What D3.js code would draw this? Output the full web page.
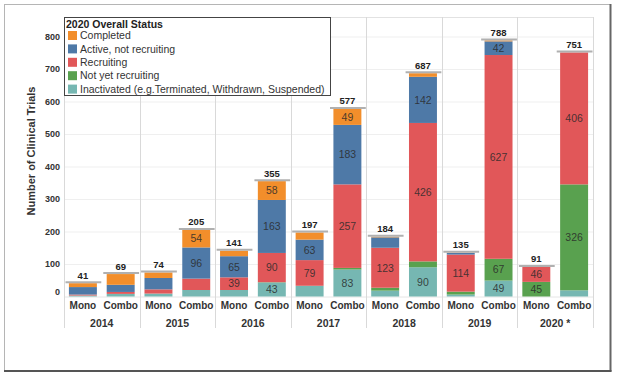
<!DOCTYPE html>
<html><head><meta charset="utf-8">
<script src="https://cdn.jsdelivr.net/npm/d3@7"></script>
<style>
html,body{margin:0;padding:0;background:#fff;}
svg{display:block;font-family:"Liberation Sans",Arial,sans-serif;}
</style></head>
<body><svg id="c" width="618" height="378"></svg>
<script>
const years = ["2014","2015","2016","2017","2018","2019","2020"];
const yearLabels = ["2014","2015","2016","2017","2018","2019","2020 *"];
const types = ["Mono","Combo"];
const statuses = ["Inactivated (e.g.Terminated, Withdrawn, Suspended)","Not yet recruiting","Recruiting","Active, not recruiting","Completed"];
const legendOrder = ["Completed","Active, not recruiting","Recruiting","Not yet recruiting","Inactivated (e.g.Terminated, Withdrawn, Suspended)"];
const colors = ["#76B7B2","#59A14F","#E15759","#4E79A7","#F28E2B"];
// bars in order: 2014 Mono, 2014 Combo, 2015 Mono, ...
const inactivated = [3, 8, 9, 20, 20, 43, 33, 83, 18, 90, 6, 49, 0, 19];
const notYetRecruiting = [0, 0, 0, 0, 0, 1, 0, 5, 9, 18, 9, 67, 45, 326];
const recruiting = [3, 6, 13, 35, 39, 90, 79, 257, 123, 426, 114, 627, 46, 406];
const activeNotRecruiting = [23, 22, 35, 96, 65, 163, 63, 183, 32, 142, 5, 42, 0, 0];
const completed = [12, 33, 17, 54, 17, 58, 22, 49, 2, 11, 1, 3, 0, 0];
const yTicks = [0,100,200,300,400,500,600,700,800];

const series = [inactivated, notYetRecruiting, recruiting, activeNotRecruiting, completed];
const rows = [];
years.forEach((yr,i)=>types.forEach((t,j)=>{
  const k = i*2+j; const r = {year:yr, type:t};
  statuses.forEach((s,si)=>r[s]=series[si][k]);
  r.total = d3.sum(series, a=>a[k]);
  rows.push(r);
}));

const svg = d3.select("#c");
const L=64, R=593, T=17, B=296.5;
const x0 = d3.scaleBand().domain(years).range([L,R]);
const x1 = d3.scaleBand().domain(types).range([0,x0.bandwidth()]);
const y = d3.scaleLinear().domain([0,860]).range([B,T]);
const color = d3.scaleOrdinal().domain(statuses).range(colors);

// outer frame
svg.append("rect").attr("x",4.5).attr("y",4.5).attr("width",606).attr("height",366).attr("fill","none").attr("stroke","#b5b5b5");
svg.append("line").attr("x1",610.5).attr("x2",610.5).attr("y1",4).attr("y2",371.5).attr("stroke","#666").attr("stroke-width",2);
svg.append("line").attr("x1",4).attr("x2",611.5).attr("y1",371).attr("y2",371).attr("stroke","#555").attr("stroke-width",2);

// gridlines
svg.append("g").selectAll("line").data(yTicks.filter(d=>d>0)).join("line")
  .attr("x1",L).attr("x2",R).attr("y1",d=>y(d)+0.5).attr("y2",d=>y(d)+0.5)
  .attr("stroke","#efefef");
svg.append("line").attr("x1",L).attr("x2",R).attr("y1",T+0.5).attr("y2",T+0.5).attr("stroke","#e2e2e2");
svg.append("line").attr("x1",L).attr("x2",R).attr("y1",B+0.5).attr("y2",B+0.5).attr("stroke","#e6e6e6");
// vertical separators
const seps = years.map(d=>x0(d)).concat([R]);
svg.append("g").selectAll("line").data(seps).join("line")
  .attr("x1",d=>Math.round(d)+0.5).attr("x2",d=>Math.round(d)+0.5).attr("y1",T).attr("y2",328)
  .attr("stroke","#d9d9d9");

// y axis labels
svg.append("g").selectAll("text").data(yTicks).join("text")
  .attr("x",60).attr("y",d=>y(d)-(d===0?5:0)).attr("dy","0.35em")
  .attr("text-anchor","end").attr("font-size",9).attr("font-weight","bold").attr("fill","#333")
  .text(d=>d);
svg.append("text").attr("transform","translate(35,151) rotate(-90)")
  .attr("text-anchor","middle").attr("font-size",11).attr("font-weight","bold").attr("fill","#333")
  .text("Number of Clinical Trials");

// stacked bars
const stack = d3.stack().keys(statuses)(rows);
const bw = x1.bandwidth()*0.74;
const gx = d=>x0(d.data.year)+x1(d.data.type)+(x1.bandwidth()-bw)/2;
const layers = svg.append("g").selectAll("g").data(stack).join("g").attr("fill",d=>color(d.key));
layers.selectAll("rect").data(d=>d).join("rect")
  .attr("x",gx).attr("width",bw)
  .attr("y",d=>y(d[1])).attr("height",d=>y(d[0])-y(d[1]));
// segment labels
const lbl = svg.append("g");
stack.forEach(layer=>{
  layer.forEach(d=>{
    const v = d[1]-d[0];
    if (v>=38) {
      lbl.append("text").attr("x",gx(d)+bw/2).attr("y",(y(d[0])+y(d[1]))/2).attr("dy","0.36em")
        .attr("text-anchor","middle").attr("font-size",10.5).attr("fill","#2a2a2a").attr("fill-opacity",0.85).text(v);
    }
  });
});
// total lines and labels
const tg = svg.append("g");
rows.forEach(r=>{
  const xs = x0(r.year)+x1(r.type);
  tg.append("line").attr("x1",xs+1.5).attr("x2",xs+x1.bandwidth()-0.5).attr("y1",y(r.total)-1).attr("y2",y(r.total)-1)
    .attr("stroke","#b0b0b0").attr("stroke-width",2);
  tg.append("text").attr("x",xs+x1.bandwidth()/2).attr("y",y(r.total)-4.5)
    .attr("text-anchor","middle").attr("font-size",9.5).attr("font-weight","bold").attr("fill","#222").text(r.total);
});

// x axis labels
const xg = svg.append("g");
years.forEach((yr,i)=>{
  types.forEach(t=>{
    xg.append("text").attr("x",x0(yr)+x1(t)+x1.bandwidth()/2).attr("y",305).attr("dy","0.35em")
      .attr("text-anchor","middle").attr("font-size",10).attr("font-weight","bold").attr("fill","#333").text(t);
  });
  xg.append("text").attr("x",x0(yr)+x0.bandwidth()/2).attr("y",323.5).attr("dy","0.35em")
    .attr("text-anchor","middle").attr("font-size",10.5).attr("font-weight","bold").attr("fill","#333").text(yearLabels[i]);
});

// legend
const lg = svg.append("g");
lg.append("rect").attr("x",64.5).attr("y",17.5).attr("width",266).attr("height",78).attr("fill","#fff").attr("stroke","#444");
lg.append("text").attr("x",66).attr("y",27.5).attr("font-size",10.5).attr("font-weight","bold").attr("fill","#222").text("2020 Overall Status");
legendOrder.forEach((s,i)=>{
  const cy = 35.5+i*13.4;
  lg.append("rect").attr("x",68).attr("y",cy-4.5).attr("width",9).attr("height",9).attr("fill",color(s));
  lg.append("text").attr("x",80).attr("y",cy).attr("dy","0.36em").attr("font-size",10.5).attr("fill","#333").text(s);
});
</script></body></html>
